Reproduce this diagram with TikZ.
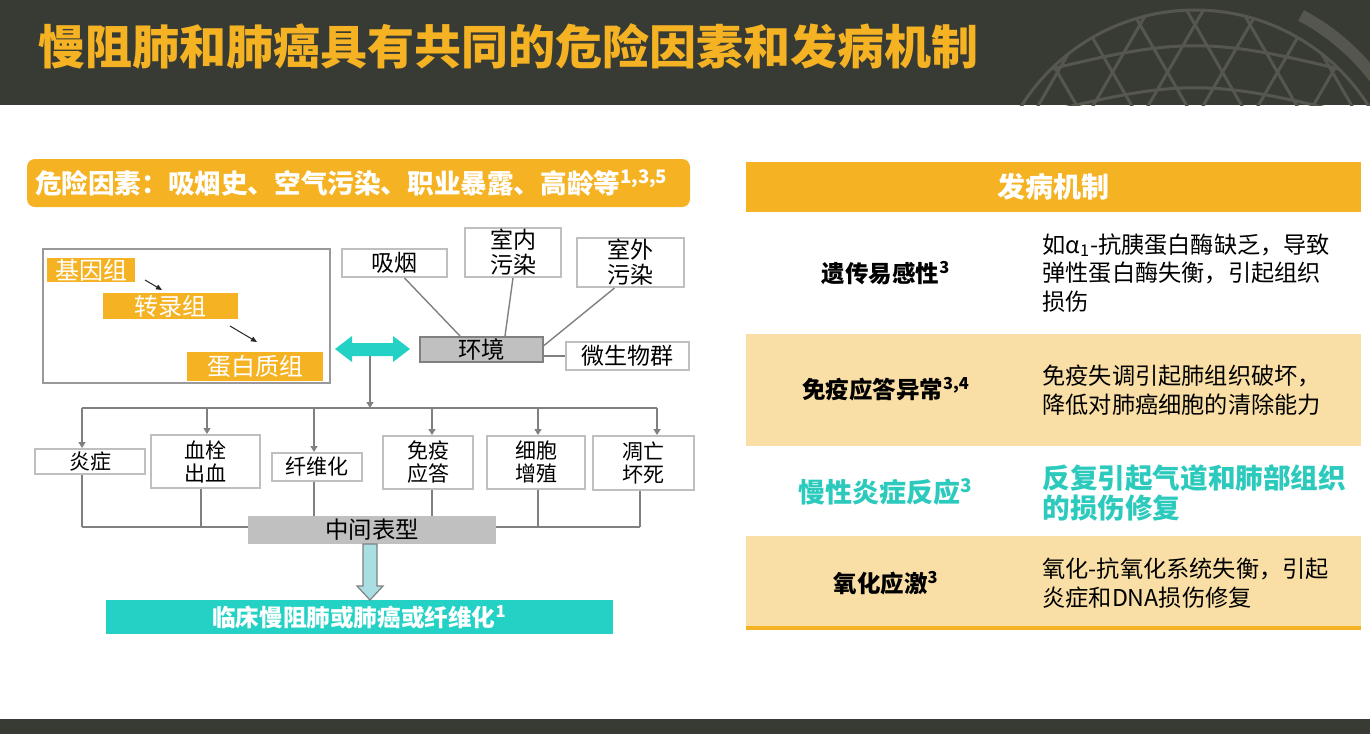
\documentclass[tikz,border=0pt]{standalone}
\usepackage{fontspec}
\setmainfont{Noto Sans CJK SC}
\usepackage{xcolor}
\usetikzlibrary{arrows.meta,calc}
\definecolor{fundo}{HTML}{383A34}
\definecolor{globo}{HTML}{55574F}
\definecolor{amarelo}{HTML}{F5B324}
\definecolor{amareloClaro}{HTML}{F9DFA5}
\definecolor{turquesa}{HTML}{23D1C5}
\definecolor{turquesaTexto}{HTML}{2CCABD}
\definecolor{azulClaro}{HTML}{A9DFE3}
\definecolor{cinzaBorda}{HTML}{BFBFBF}
\definecolor{cinzaCaixa}{HTML}{C0C0C0}
\definecolor{cinzaLinha}{HTML}{808080}
\tikzset{
    faixa/.style={fill=amarelo, inner sep=0pt, text=white, font=\fontsize{13.3}{16}\selectfont\bfseries},
    omica/.style={fill=amarelo, inner sep=0pt, text=white, font=\fontsize{12}{14}\selectfont},
    caixa/.style={
        draw=cinzaBorda,
        line width=1pt,
        fill=white,
        inner sep=0pt,
        align=center,
        font=\fontsize{10.5}{11.5}\selectfont
    },
    fator/.style={caixa, font=\fontsize{11.5}{12.5}\selectfont},
    central/.style={fill=cinzaCaixa, inner sep=0pt, font=\fontsize{11.7}{14}\selectfont},
    ligacao/.style={draw=cinzaLinha, line width=0.7pt},
    fluxo/.style={ligacao, -{Triangle[length=3pt,width=3.5pt]}},
    pequena/.style={-{Triangle[length=3pt,width=2.5pt]}, line width=0.5pt, black!85},
    globoFio/.style={draw=globo, line width=1.5pt},
    linhaTabela/.style={inner sep=0pt, minimum width=307.5pt},
    rotulo/.style={inner sep=0pt, font=\fontsize{11.75}{14}\selectfont\bfseries},
    descricao/.style={anchor=west, align=left, inner sep=0pt, font=\fontsize{11.6}{14.4}\selectfont}
}

\begin{document}
\begin{tikzpicture}[x=0.5pt, y=-0.5pt]
    \useasboundingbox (0,0) rectangle (1370,734);
    \fill[white] (0,0) rectangle (1370,734);

    % cabecalho com o globo
    \fill[fundo] (0,0) rectangle (1370,105);
    \begin{scope}
        \clip (0,0) rectangle (1370,105);
        \draw[globoFio] (1195,215) circle[radius=205];
        \draw[draw=globo, line width=6pt] (1195,215) ++(-62:226) arc[start angle=-62, end angle=-20, radius=226];
        \begin{scope}
            \clip (1195,215) circle[radius=205];
            \foreach \k in {-7,...,7} {
                \draw[globoFio] (1195+\k*55-200,561) -- (1195+\k*55+200,-131);
                \draw[globoFio] (1195+\k*55+200,561) -- (1195+\k*55-200,-131);
            }
            \foreach \y in {20,62,104} {
                \draw[globoFio] (980,\y+25) .. controls (1195,\y-30) .. (1410,\y+25);
            }
        \end{scope}
    \end{scope}
    \node[anchor=west, inner sep=0pt, text=amarelo, font=\fontsize{23.5}{28}\selectfont\bfseries] (titulo) at (38,46) {慢阻肺和肺癌具有共同的危险因素和发病机制};

    % fatores de risco e ambiente
    \node[faixa, rounded corners=4pt, minimum width=331.5pt, minimum height=24pt, text width=323.5pt, align=left] (fatores) at (358.5,183) {危险因素：吸烟史、空气污染、职业暴露、高龄等\textsuperscript{1,3,5}};

    \node[draw=cinzaLinha!80, line width=1pt, minimum width=143.5pt, minimum height=67pt, inner sep=0pt] (omicas) at (186.5,316) {};
    \node[omica, minimum width=44pt, minimum height=12pt] (genoma) at (91,270) {基因组};
    \node[omica, minimum width=67.5pt, minimum height=13pt] (transcriptoma) at (170.5,306) {转录组};
    \node[omica, minimum width=68pt, minimum height=14.5pt] (proteoma) at (255,366.5) {蛋白质组};
    \coordinate (s1) at (145,280);
    \coordinate (e1) at (162,290);
    \coordinate (s2) at (230,326);
    \coordinate (e2) at (257,342);
    \draw[pequena] (s1) -- (e1);
    \draw[pequena] (s2) -- (e2);

    \node[fator, minimum width=52.5pt, minimum height=14pt] (fumo) at (394.5,263) {吸烟};
    \node[fator, minimum width=48pt, minimum height=24.5pt] (interno) at (513,252.5) {室内\\污染};
    \node[fator, minimum width=53.5pt, minimum height=24.5pt] (externo) at (630.5,262.5) {室外\\污染};
    \node[central, draw=cinzaLinha, line width=1pt, minimum width=61.5pt, minimum height=12.5pt] (ambiente) at (481.5,349.5) {环境};
    \node[fator, minimum width=61.5pt, minimum height=14pt] (microbiota) at (627.5,356) {微生物群};

    \draw[ligacao] ([xshift=5pt]fumo.south) -- ([xshift=-10.75pt]ambiente.north);
    \draw[ligacao] (interno.south) -- ([xshift=11.75pt]ambiente.north);
    \draw[ligacao] ([xshift=-8pt]externo.south) -- ([yshift=2pt]ambiente.east);
    \draw[ligacao] (microbiota.west) -- (microbiota.west -| ambiente.east);

    \fill[turquesa] (335,349) -- (352,336) -- (352,343) -- (393,343) -- (393,336) -- (410,349) -- (393,362) -- (393,356) -- (352,356) -- (352,362) -- cycle;
    \coordinate (meio) at (370,356);
    \coordinate (barra) at (370,408);
    \draw[fluxo] (meio) -- (barra);

    % fenotipos
    \node[caixa, minimum width=55pt, minimum height=12.5pt] (inflamacao) at (90,461.5) {炎症};
    \node[caixa, minimum width=54.5pt, minimum height=26.5pt] (trombose) at (205.5,461.5) {血栓\\出血};
    \node[caixa, minimum width=45pt, minimum height=14pt] (fibrose) at (317,467) {纤维化};
    \node[caixa, minimum width=45pt, minimum height=26.5pt] (imunidade) at (428,462.5) {免疫\\应答};
    \node[caixa, minimum width=49pt, minimum height=26.5pt] (proliferacao) at (536,462.5) {细胞\\增殖};
    \node[caixa, minimum width=50.5pt, minimum height=27pt] (apoptose) at (643.5,463) {凋亡\\坏死};

    \draw[ligacao] (82,408) -- (657,408);
    \foreach \alvo/\xa in {inflamacao/82, trombose/207, fibrose/314, imunidade/432, proliferacao/538, apoptose/657}
        \draw[fluxo] (\xa,408) -- (\xa,408 |- \alvo.north);
    \foreach \alvo/\xa in {inflamacao/82, trombose/201, fibrose/314, imunidade/432, proliferacao/538, apoptose/640}
        \draw[ligacao] (\xa,408 |- \alvo.south) -- (\xa,527);
    \draw[ligacao] (82,527) -- (640,527);

    \node[central, minimum width=124pt, minimum height=14pt] (intermedio) at (372,530) {中间表型};
    \node[fill=turquesa, inner sep=0pt, minimum width=253.5pt, minimum height=17pt, text=white, font=\fontsize{11.8}{14}\selectfont\bfseries] (desfecho) at (359.5,617) {临床慢阻肺或肺癌或纤维化\textsuperscript{1}};
    \path[draw=cinzaLinha, fill=azulClaro, line width=0.6pt] (363,544) -- (377,544) -- (377,586) -- (383,586) -- (370,600) -- (357,586) -- (363,586) -- cycle;

    % tabela de mecanismos
    \node[linhaTabela, fill=amarelo, minimum height=25pt, text=white, font=\fontsize{14}{16}\selectfont\bfseries] (cabecalho) at (1053.5,187) {发病机制};
    \node[linhaTabela, fill=white, minimum height=61pt] (linha1) at (1053.5,273) {};
    \node[linhaTabela, fill=amareloClaro, minimum height=56pt] (linha2) at (1053.5,390) {};
    \node[linhaTabela, fill=white, minimum height=45pt] (linha3) at (1053.5,491) {};
    \node[linhaTabela, fill=amareloClaro, minimum height=46pt] (linha4) at (1053.5,582) {};
    \draw[amarelo, line width=2pt] (linha4.south west) -- (linha4.south east);

    \node[rotulo] (genetica) at (886,273) {遗传易感性\textsuperscript{3}};
    \node[rotulo] (imune) at (886,389) {免疫应答异常\textsuperscript{3,4}};
    \node[rotulo, text=turquesaTexto, font=\fontsize{13.5}{16}\selectfont\bfseries] (cronica) at (886,492) {慢性炎症反应\textsuperscript{3}};
    \node[rotulo] (oxidativo) at (886,583) {氧化应激\textsuperscript{3}};

    \node[descricao] (descGenetica) at (1042,273) {如α\textsubscript{1}-抗胰蛋白酶缺乏，导致\\弹性蛋白酶失衡，引起组织\\损伤};
    \node[descricao] (descImune) at (1042,390.5) {免疫失调引起肺组织破坏，\\降低对肺癌细胞的清除能力};
    \node[descricao, text=turquesaTexto, font=\fontsize{13.8}{15}\selectfont\bfseries] (descCronica) at (1042,493) {反复引起气道和肺部组织\\的损伤修复};
    \node[descricao] (descOxidativo) at (1042,583.5) {氧化-抗氧化系统失衡，引起\\炎症和DNA损伤修复};

    % rodape
    \fill[fundo] (0,719) rectangle (1370,734);
\end{tikzpicture}
\end{document}
